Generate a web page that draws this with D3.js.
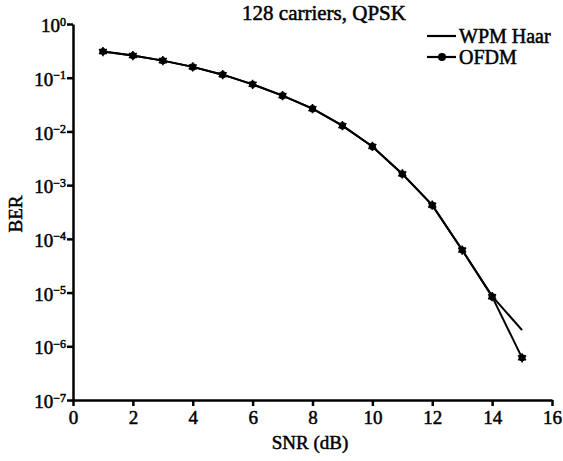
<!DOCTYPE html>
<html>
<head>
<meta charset="utf-8">
<script src="https://cdn.jsdelivr.net/npm/d3@7"></script>
<style>
  body { margin: 0; background: #fff; }
</style>
</head>
<body>
<svg id="chart"></svg>
<script>
// data
const snr = [1, 2, 3, 4, 5, 6, 7, 8, 9, 10, 11, 12, 13, 14, 15];
const berWpm = [0.307, 0.258, 0.208, 0.159, 0.114, 0.0753, 0.0464, 0.0265, 0.0128, 0.00525, 0.00162, 4.24e-4, 6.2e-5, 8.6e-6, 2.0e-6];
const berOfdm = [0.307, 0.258, 0.208, 0.159, 0.114, 0.0753, 0.0464, 0.0265, 0.0128, 0.00525, 0.00162, 4.24e-4, 6.2e-5, 8.4e-6, 6.1e-7];
const xTicks = [0, 2, 4, 6, 8, 10, 12, 14, 16];
const yExp = [0, -1, -2, -3, -4, -5, -6, -7];

const serif = "\"Liberation Serif\"";
const width = 563, height = 461;
const margin = { top: 24, right: 11, bottom: 61, left: 73 };

const svg = d3.select("#chart")
  .attr("width", width)
  .attr("height", height);

// text helper: slightly heavy serif like the scanned figure
function heavy(sel, size) {
  return sel.style("font-family", serif)
    .style("font-size", size + "px")
    .attr("fill", "#000")
    .attr("stroke", "#000")
    .attr("stroke-width", 0.5);
}

const x = d3.scaleLinear()
  .domain([0, 16])
  .range([margin.left, width - margin.right]);

const y = d3.scaleLog()
  .domain([1e-7, 1])
  .range([height - margin.bottom, margin.top]);

// x axis
const xAxis = svg.append("g")
  .attr("transform", `translate(0,${height - margin.bottom})`)
  .call(d3.axisBottom(x).tickValues(xTicks).tickSize(6).tickSizeOuter(0).tickPadding(5));

heavy(xAxis.selectAll("text"), 19);

// y axis
const yAxis = svg.append("g")
  .attr("transform", `translate(${margin.left},0)`)
  .call(d3.axisLeft(y).tickValues(yExp.map(e => Math.pow(10, e))).tickSize(6).tickSizeOuter(0).tickPadding(1));

yAxis.selectAll(".tick text").each(function (d) {
  const t = d3.select(this).text("");
  const e = Math.round(Math.log10(d));
  heavy(t, 19).attr("dy", "0.4em");
  t.append("tspan").text("10");
  t.append("tspan")
    .attr("dy", "-0.55em")
    .style("font-size", "12px")
    .text(e === 0 ? "0" : "\u2212" + Math.abs(e));
});

svg.selectAll(".domain").attr("stroke-width", 2.5);
svg.selectAll(".tick line").attr("stroke-width", 2.5);

// series
const line = d3.line()
  .x(d => x(d[0]))
  .y(d => y(d[1]));

svg.append("path")
  .datum(snr.map((s, i) => [s, berWpm[i]]))
  .attr("fill", "none")
  .attr("stroke", "#000")
  .attr("stroke-width", 2)
  .attr("d", line);

const ofdm = snr.map((s, i) => [s, berOfdm[i]]);

svg.append("path")
  .datum(ofdm)
  .attr("fill", "none")
  .attr("stroke", "#000")
  .attr("stroke-width", 2)
  .attr("d", line);

const star = d3.symbol().type(d3.symbolAsterisk).size(60);
const marks = svg.append("g");
marks.selectAll("circle")
  .data(ofdm)
  .join("circle")
  .attr("cx", d => x(d[0]))
  .attr("cy", d => y(d[1]))
  .attr("r", 3.6)
  .attr("fill", "#000");
marks.selectAll("path")
  .data(ofdm)
  .join("path")
  .attr("transform", d => `translate(${x(d[0])},${y(d[1])})`)
  .attr("d", star)
  .attr("stroke", "#000")
  .attr("stroke-width", 1.6)
  .attr("fill", "none");

// title and labels
function label(xx, yy, str, size, rot) {
  return heavy(svg.append("text"), size)
    .attr("transform", `translate(${xx},${yy})` + (rot ? " rotate(-90)" : ""))
    .attr("text-anchor", "middle")
    .text(str);
}
label(324, 20, "128 carriers, QPSK", 21);
label(310, 449, "SNR (dB)", 19);
label(22, 214, "BER", 19, true);

// legend
const legend = svg.append("g");
const items = [
  { name: "WPM Haar", marker: false, yy: 36 },
  { name: "OFDM", marker: true, yy: 57 }
];
items.forEach(it => {
  legend.append("line")
    .attr("x1", 427).attr("x2", 456)
    .attr("y1", it.yy).attr("y2", it.yy)
    .attr("stroke", "#000").attr("stroke-width", 2.2);
  if (it.marker) {
    legend.append("circle")
      .attr("cx", 442).attr("cy", it.yy).attr("r", 4)
      .attr("fill", "#000");
  }
  heavy(legend.append("text"), 20)
    .attr("x", 459)
    .attr("y", it.yy)
    .attr("dy", "0.33em")
    .text(it.name);
});
</script>
</body>
</html>
